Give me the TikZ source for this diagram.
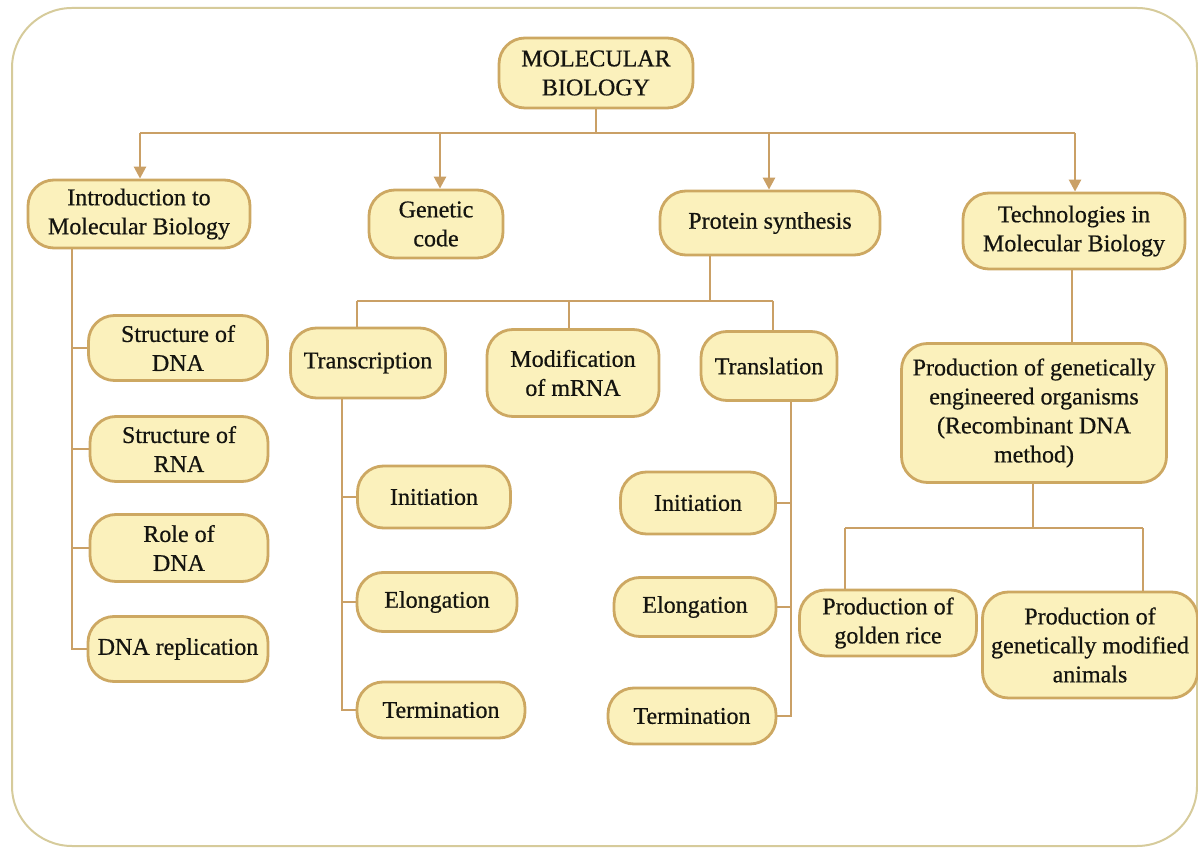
\documentclass[tikz,border=0pt]{standalone}
\usepackage{fontspec}
\setmainfont{Liberation Serif}[BoldFont={Liberation Serif}, BoldFeatures={FakeBold=0.6}]
\usetikzlibrary{arrows.meta}
\definecolor{boxfill}{RGB}{251,241,188}
\definecolor{boxline}{RGB}{205,168,98}
\definecolor{wirecol}{RGB}{202,160,102}
\definecolor{framecol}{RGB}{214,203,155}
\definecolor{ink}{RGB}{20,20,15}

\begin{document}
\begin{tikzpicture}[x=0.5pt,y=-0.5pt,
  box/.style={draw=boxline, line width=1.4pt, fill=boxfill, rounded corners=13pt,
    align=center, inner sep=0pt, font=\fontsize{12}{14.5}\selectfont\bfseries, text=ink},
  wh/.style 2 args={minimum width=#1, minimum height=#2},
  wire/.style={draw=wirecol, line width=1.3pt},
  arr/.style={wire, -{Triangle[length=6pt,width=6pt]}}]

\useasboundingbox (0,0) rectangle (1198,849);
% outer frame
\draw[framecol, line width=1pt, rounded corners=30pt] (12,8) rectangle (1197,846);

% top level
\node[box, wh={97pt}{35pt}] (mb) at (596,73) {MOLECULAR\\BIOLOGY};
\node[box, wh={111pt}{34pt}] (intro) at (139,214) {Introduction to\\Molecular Biology};
\node[box, wh={67pt}{34pt}] (gc) at (436,224) {Genetic\\code};
\node[box, wh={110pt}{32pt}] (ps) at (770,223) {Protein synthesis};
\node[box, wh={111pt}{38pt}] (tech) at (1074,231) {Technologies in\\Molecular Biology};

% introduction branch
\node[box, wh={89.5pt}{32.5pt}] (sdna) at (178,348) {Structure of\\DNA};
\node[box, wh={89pt}{32.5pt}] (srna) at (179,449) {Structure of\\RNA};
\node[box, wh={89pt}{33.5pt}] (rdna) at (179,548) {Role of\\DNA};
\node[box, wh={90pt}{32.5pt}] (drep) at (178,649) {DNA replication};

% protein synthesis branch
\node[box, wh={77.5pt}{35pt}] (trc) at (368,363) {Transcription};
\node[box, wh={86pt}{43.5pt}] (mod) at (573,373) {Modification\\of mRNA};
\node[box, wh={68pt}{34.5pt}] (trl) at (769,366) {Translation};

\node[box, wh={76.5pt}{31pt}] (ini1) at (434,497) {Initiation};
\node[box, wh={80pt}{29.5pt}] (elo1) at (437,602) {Elongation};
\node[box, wh={84pt}{28pt}] (ter1) at (441,710) {Termination};

\node[box, wh={77.5pt}{31pt}] (ini2) at (698,503) {Initiation};
\node[box, wh={81pt}{29.5pt}] (elo2) at (695,607) {Elongation};
\node[box, wh={84pt}{28pt}] (ter2) at (692,716) {Termination};

% technologies branch
\node[box, wh={132.5pt}{69.5pt}] (pge) at (1034,413) {Production of genetically\\engineered organisms\\(Recombinant DNA\\method)};
\node[box, wh={88.5pt}{33pt}] (gr) at (888,623) {Production of\\golden rice};
\node[box, wh={107.5pt}{53pt}] (gma) at (1090,645) {Production of\\genetically modified\\animals};

% guide coordinates for connector lines
\coordinate (busA) at (0,133);
\coordinate (xintro) at (140,0);
\coordinate (xgc) at (440,0);
\coordinate (xps) at (769,0);
\coordinate (xtech) at (1075,0);
\coordinate (busB) at (0,301);
\coordinate (xpsdown) at (710,0);
\coordinate (xtrc) at (357,0);
\coordinate (xmod) at (569,0);
\coordinate (xtrl) at (773,0);
\coordinate (xintrodown) at (72,0);
\coordinate (xtrcdown) at (342,0);
\coordinate (xtrldown) at (791,0);
\coordinate (xtechdown) at (1072,0);
\coordinate (xpgedown) at (1033,0);
\coordinate (busC) at (0,528);
\coordinate (xgr) at (845,0);
\coordinate (xgma) at (1143,0);

% top bus
\draw[wire] (mb.south) -- (mb.south |- busA);
\draw[wire] (xintro |- busA) -- (xtech |- busA);
\draw[arr] (xintro |- busA) -- (xintro |- intro.north);
\draw[arr] (xgc |- busA) -- (xgc |- gc.north);
\draw[arr] (xps |- busA) -- (xps |- ps.north);
\draw[arr] (xtech |- busA) -- (xtech |- tech.north);

% protein synthesis bus
\draw[wire] (xpsdown |- ps.south) -- (xpsdown |- busB);
\draw[wire] (xtrc |- busB) -- (xtrl |- busB);
\draw[wire] (xtrc |- busB) -- (xtrc |- trc.north);
\draw[wire] (xmod |- busB) -- (xmod |- mod.north);
\draw[wire] (xtrl |- busB) -- (xtrl |- trl.north);

% introduction list
\draw[wire] (xintrodown |- intro.south) -- (xintrodown |- drep.west) -- (drep.west);
\draw[wire] (sdna.west) -- (sdna.west -| xintrodown);
\draw[wire] (srna.west) -- (srna.west -| xintrodown);
\draw[wire] (rdna.west) -- (rdna.west -| xintrodown);

% transcription list
\draw[wire] (xtrcdown |- trc.south) -- (xtrcdown |- ter1.west) -- (ter1.west);
\draw[wire] (ini1.west) -- (ini1.west -| xtrcdown);
\draw[wire] (elo1.west) -- (elo1.west -| xtrcdown);

% translation list
\draw[wire] (xtrldown |- trl.south) -- (xtrldown |- ter2.east) -- (ter2.east);
\draw[wire] (ini2.east) -- (ini2.east -| xtrldown);
\draw[wire] (elo2.east) -- (elo2.east -| xtrldown);

% technologies
\draw[wire] (xtechdown |- tech.south) -- (xtechdown |- pge.north);
\draw[wire] (xpgedown |- pge.south) -- (xpgedown |- busC);
\draw[wire] (xgr |- busC) -- (xgma |- busC);
\draw[wire] (xgr |- busC) -- (xgr |- gr.north);
\draw[wire] (xgma |- busC) -- (xgma |- gma.north);
\end{tikzpicture}
\end{document}
